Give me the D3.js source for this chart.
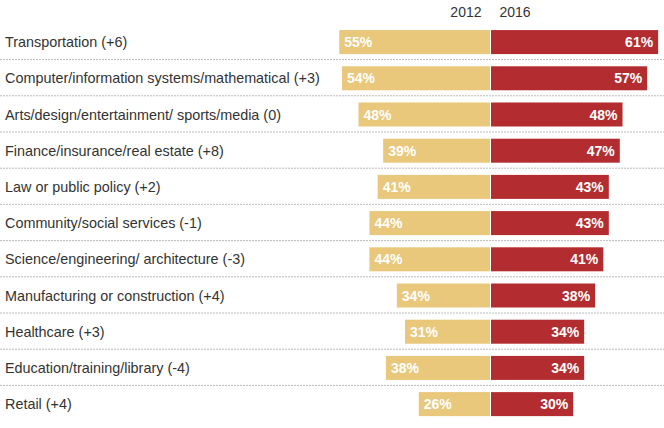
<!DOCTYPE html>
<html>
<head>
<meta charset="utf-8">
<script src="https://cdn.jsdelivr.net/npm/d3@7"></script>
<style>
  html, body { margin: 0; padding: 0; background: #fff; }
  svg { display: block; }
</style>
</head>
<body>
<svg id="chart" width="664" height="428"></svg>
<script>
const categories = [
  "Transportation (+6)",
  "Computer/information systems/mathematical (+3)",
  "Arts/design/entertainment/ sports/media (0)",
  "Finance/insurance/real estate (+8)",
  "Law or public policy (+2)",
  "Community/social services (-1)",
  "Science/engineering/ architecture (-3)",
  "Manufacturing or construction (+4)",
  "Healthcare (+3)",
  "Education/training/library (-4)",
  "Retail (+4)"
];
const values2012 = [55, 54, 48, 39, 41, 44, 44, 34, 31, 38, 26];
const values2016 = [61, 57, 48, 47, 43, 43, 41, 38, 34, 34, 30];
const seriesLabels = ["2012", "2016"];

const svg = d3.select("#chart");
const W = 664, H = 428;
const center = 490.5;
const fontFam = "'Liberation Sans', Arial, Helvetica, sans-serif";

const xLen = d3.scaleLinear().domain([0, 100]).range([0, 274]);
const y = d3.scaleBand().domain(categories).range([24, 24 + 36.2 * categories.length]).paddingInner(0.337).paddingOuter(0.168);

const colors = { c2012: "#e9c77b", c2016: "#b32d30" };

// headers
svg.append("text").attr("x", center - 9).attr("y", 17).attr("text-anchor", "end")
  .attr("font-family", fontFam).attr("font-size", 14).attr("fill", "#333").text(seriesLabels[0]);
svg.append("text").attr("x", center + 9).attr("y", 17).attr("text-anchor", "start")
  .attr("font-family", fontFam).attr("font-size", 14).attr("fill", "#333").text(seriesLabels[1]);

// separators
categories.slice(0, -1).forEach((c, i) => {
  const yy = y(c) + y.bandwidth() + 5.5;
  svg.append("line").attr("x1", 0).attr("x2", W).attr("y1", yy).attr("y2", yy)
    .attr("stroke", "#bbb").attr("stroke-width", 1).attr("stroke-dasharray", "2,1");
});

const rows = svg.selectAll("g.row").data(categories).enter().append("g").attr("class", "row")
  .attr("transform", d => `translate(0,${y(d)})`);

rows.append("text").attr("x", 5).attr("y", y.bandwidth() / 2).attr("dy", "0.35em")
  .attr("font-family", fontFam).attr("font-size", 14.4).attr("fill", "#333").text(d => d);

rows.append("rect")
  .attr("x", (d, i) => center - 0.5 - xLen(values2012[i]))
  .attr("y", 0).attr("width", (d, i) => xLen(values2012[i])).attr("height", y.bandwidth())
  .attr("fill", colors.c2012);
rows.append("rect")
  .attr("x", center + 0.5)
  .attr("y", 0).attr("width", (d, i) => xLen(values2016[i])).attr("height", y.bandwidth())
  .attr("fill", colors.c2016);

rows.append("text")
  .attr("x", (d, i) => center - 0.5 - xLen(values2012[i]) + 5)
  .attr("y", y.bandwidth() / 2).attr("dy", "0.36em")
  .attr("font-family", fontFam).attr("font-size", 14).attr("font-weight", "bold").attr("fill", "#fff")
  .text((d, i) => values2012[i] + "%");
rows.append("text")
  .attr("x", (d, i) => center + 0.5 + xLen(values2016[i]) - 5)
  .attr("text-anchor", "end")
  .attr("y", y.bandwidth() / 2).attr("dy", "0.36em")
  .attr("font-family", fontFam).attr("font-size", 14).attr("font-weight", "bold").attr("fill", "#fff")
  .text((d, i) => values2016[i] + "%");
</script>
</body>
</html>
